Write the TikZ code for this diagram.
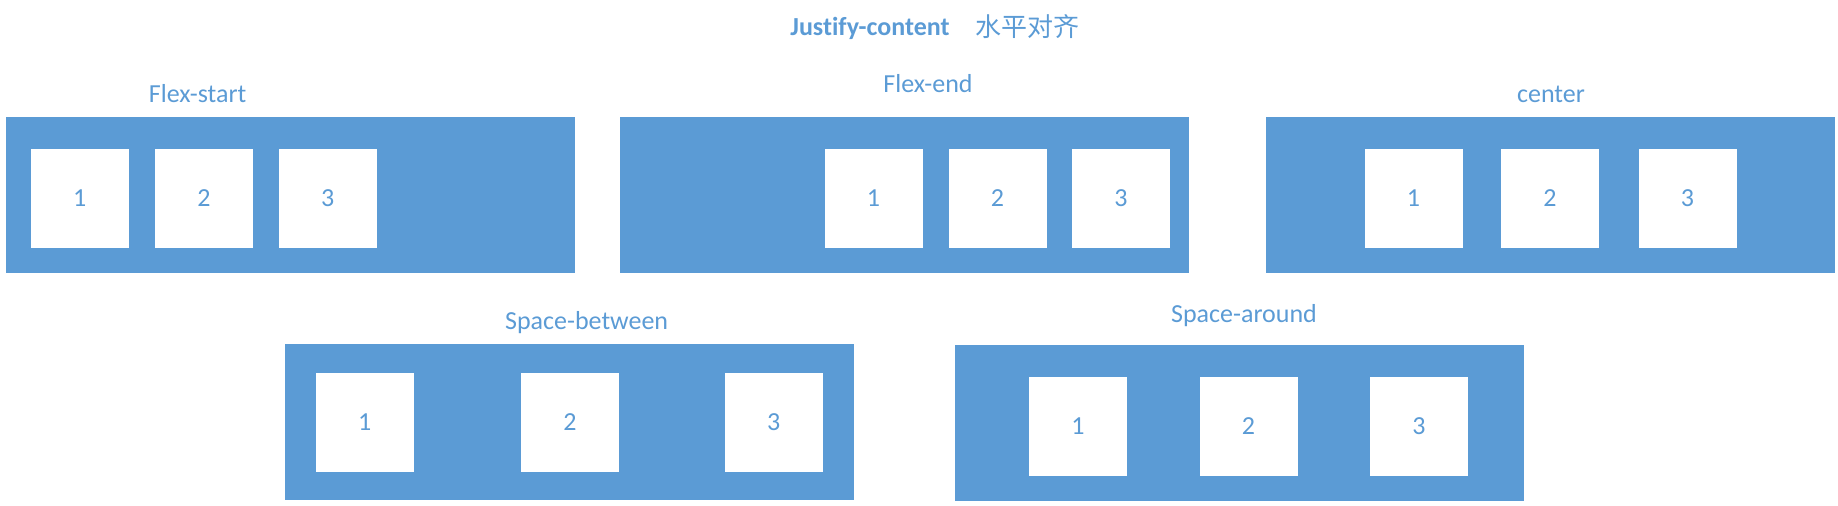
\documentclass[tikz,border=0pt]{standalone}
\usepackage{fontspec}
\setmainfont[Ligatures=CommonOff]{Carlito}
\newfontfamily\cjk{Noto Sans CJK SC}
\definecolor{flexblue}{HTML}{5B9BD5}
\tikzset{
  container/.style={fill=flexblue,draw=none,minimum width=284.5pt,minimum height=78pt,inner sep=0pt},
  item/.style={fill=white,draw=none,minimum width=49pt,minimum height=49.5pt,inner sep=0pt,text=flexblue,font=\fontsize{13pt}{15pt}\selectfont},
  caption/.style={text=flexblue,inner sep=0pt,font=\fontsize{13pt}{15pt}\selectfont}
}
\begin{document}
\begin{tikzpicture}[x=0.5pt,y=-0.5pt]
\useasboundingbox (0,0) rectangle (1838,506);

  % title
  \node[caption,font=\fontsize{13pt}{15pt}\selectfont\bfseries] (title) at (870,28) {Justify-content};
  \node[caption,font=\fontsize{13pt}{15pt}\selectfont\cjk] (titlecn) at (1027.5,27) {水平对齐};

  % flex-start
  \node[caption] (fslabel) at (197.6,94) {Flex-start};
  \node[container] (fs) at (290.2,195.5) {};
  \node[item] (fs1) at (79.8,198.3) {1};
  \node[item] (fs2) at (204,198.3) {2};
  \node[item] (fs3) at (327.8,198.3) {3};

  % flex-end
  \node[caption] (felabel) at (928,84) {Flex-end};
  \node[container] (fe) at (904.5,195.5) {};
  \node[item] (fe1) at (873.5,198.3) {1};
  \node[item] (fe2) at (997.5,198.3) {2};
  \node[item] (fe3) at (1121,198.3) {3};

  % center
  \node[caption] (celabel) at (1551,94) {center};
  \node[container] (ce) at (1550.5,195.5) {};
  \node[item] (ce1) at (1413.5,198.3) {1};
  \node[item] (ce2) at (1550,198.3) {2};
  \node[item] (ce3) at (1687.5,198.3) {3};

  % space-between
  \node[caption] (sblabel) at (586.6,323) {Space-between};
  \node[container] (sb) at (569.5,422) {};
  \node[item] (sb1) at (364.8,422.3) {1};
  \node[item] (sb2) at (570,422.3) {2};
  \node[item] (sb3) at (773.8,422.3) {3};

  % space-around
  \node[caption] (salabel) at (1244,316) {Space-around};
  \node[container] (sa) at (1239.5,423.3) {};
  \node[item] (sa1) at (1078,426.5) {1};
  \node[item] (sa2) at (1248.5,426.5) {2};
  \node[item] (sa3) at (1419,426.5) {3};
\end{tikzpicture}
\end{document}
